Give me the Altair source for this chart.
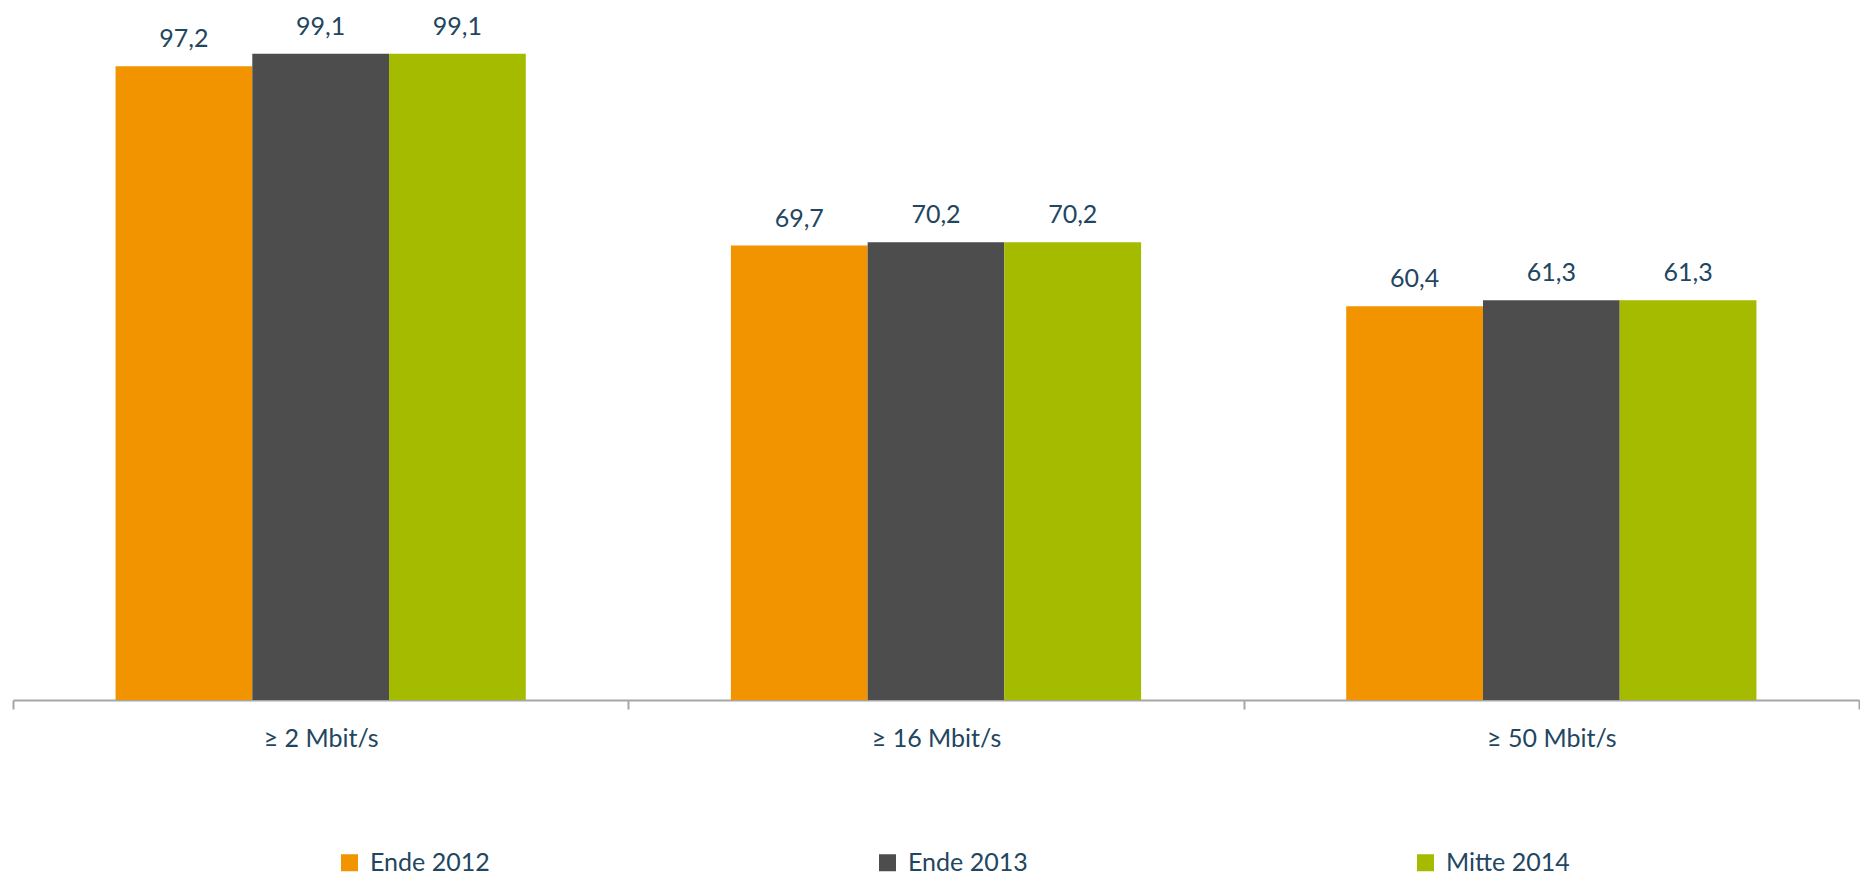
import altair as alt
import pandas as pd

categories = ["≥ 2 Mbit/s", "≥ 16 Mbit/s", "≥ 50 Mbit/s"]
series = ["Ende 2012", "Ende 2013", "Mitte 2014"]
values_2012 = [97.2, 69.7, 60.4]
values_2013 = [99.1, 70.2, 61.3]
values_2014 = [99.1, 70.2, 61.3]
colors = ["#F29400", "#4D4D4D", "#A5BB00"]

rows = []
for s, vals in zip(series, [values_2012, values_2013, values_2014]):
    for c, v in zip(categories, vals):
        rows.append({"cat": c, "series": s, "value": v,
                     "label": f"{v:.1f}".replace(".", ",")})
df = pd.DataFrame(rows)

TXT = "#22465F"
FONT = "Lato"

x = alt.X("cat:N", sort=categories, title=None,
          scale=alt.Scale(paddingInner=0, paddingOuter=0),
          axis=alt.Axis(labelAngle=0, tickBand="extent", domainColor="#A6A6A6",
                        domainWidth=2, tickColor="#A6A6A6", tickWidth=2, tickSize=9,
                        labelFont=FONT, labelFontSize=25, labelColor=TXT,
                        labelBaseline="alphabetic", labelPadding=37))
xo = alt.XOffset("series:N", sort=series,
                 scale=alt.Scale(paddingInner=0, paddingOuter=0.75))
y = alt.Y("value:Q", scale=alt.Scale(domain=[0, 100], nice=False), axis=None)

bars = alt.Chart(df).mark_bar().encode(
    x=x, xOffset=xo, y=y,
    color=alt.Color("series:N", sort=series,
                    scale=alt.Scale(domain=series, range=colors),
                    legend=alt.Legend(title=None, orient="none", direction="horizontal",
                                      legendX=324, legendY=802, symbolType="square",
                                      symbolSize=289, symbolStrokeWidth=0,
                                      labelFont=FONT, labelFontSize=25, labelColor=TXT,
                                      labelOffset=8, columnPadding=381, gridAlign="all",
                                      padding=0))
)

labels = alt.Chart(df).mark_text(baseline="alphabetic", dy=-19, font=FONT,
                                 fontSize=25, color=TXT).encode(
    x=x, xOffset=xo, y=y, text="label:N"
)

chart = alt.layer(bars, labels).properties(
    width=1846, height=652,
    autosize=alt.AutoSizeParams(type="none"),
    padding={"left": 5, "top": 40, "right": 1, "bottom": 178},
).configure_view(stroke=None)

chart.save("out.html", embed_options={"renderer": "svg", "actions": False})
